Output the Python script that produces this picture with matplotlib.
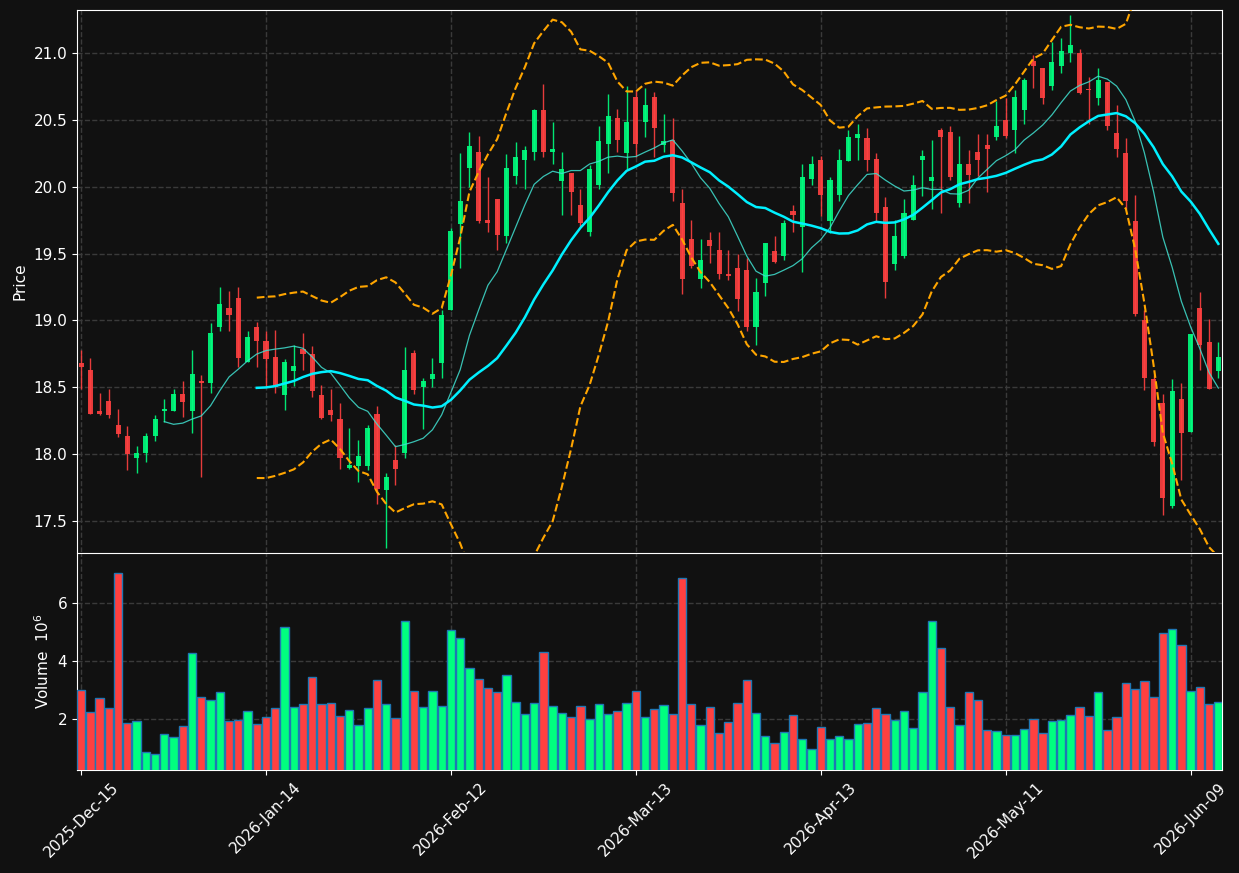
import numpy as np
import pandas as pd
import matplotlib
matplotlib.use("Agg")
from matplotlib import pyplot as plt

# daily OHLC (index = trading day)
opens = [18.68, 18.63, 18.32, 18.40, 18.22, 18.14, 17.97, 18.01, 18.14, 18.32,
         18.32, 18.45, 18.32, 18.55, 18.53, 18.95, 19.09, 19.17, 18.69, 18.95,
         18.85, 18.73, 18.44, 18.62, 18.79, 18.75, 18.44, 18.33, 18.26, 17.90,
         17.91, 17.91, 18.30, 17.73, 17.96, 18.01, 18.76, 18.50, 18.56, 18.68,
         19.08, 19.72, 20.14, 20.26, 19.75, 19.91, 19.63, 20.08, 20.20, 20.26,
         20.57, 20.26, 20.04, 20.10, 19.86, 19.66, 20.01, 20.32, 20.51, 20.25,
         20.67, 20.48, 20.67, 20.31, 20.35, 19.88, 19.61, 19.31, 19.60, 19.53,
         19.35, 19.39, 19.38, 18.95, 19.28, 19.52, 19.48, 19.82, 19.70, 20.06,
         20.20, 19.74, 19.94, 20.19, 20.36, 20.36, 20.21, 19.85, 19.42, 19.48,
         19.75, 20.20, 20.04, 20.42, 20.41, 19.88, 20.17, 20.26, 20.31, 20.37,
         20.50, 20.42, 20.57, 20.94, 20.89, 20.75, 20.90, 21.00, 21.00, 20.73,
         20.66, 20.78, 20.40, 20.25, 19.74, 19.00, 18.56, 18.38, 17.61, 18.41,
         18.17, 19.09, 18.84, 18.62]
highs = [18.78, 18.72, 18.46, 18.49, 18.34, 18.21, 18.06, 18.16, 18.29, 18.41,
         18.49, 18.55, 18.78, 18.59, 18.98, 19.25, 19.22, 19.25, 18.92, 18.99,
         18.92, 18.93, 18.71, 18.82, 18.91, 18.81, 18.52, 18.49, 18.38, 18.20,
         18.11, 18.22, 18.36, 17.86, 18.07, 18.80, 18.78, 18.57, 18.72, 19.08,
         19.69, 20.25, 20.41, 20.38, 20.07, 19.91, 20.24, 20.33, 20.30, 20.58,
         20.77, 20.48, 20.26, 20.10, 19.98, 20.16, 20.45, 20.69, 20.58, 20.75,
         20.72, 20.74, 20.71, 20.54, 20.51, 19.98, 19.75, 19.61, 19.66, 19.66,
         19.53, 19.50, 19.47, 19.32, 19.58, 19.63, 19.75, 19.86, 20.17, 20.23,
         20.23, 20.07, 20.28, 20.42, 20.47, 20.44, 20.25, 19.92, 19.75, 19.91,
         20.09, 20.27, 20.35, 20.44, 20.45, 20.38, 20.27, 20.39, 20.39, 20.64,
         20.66, 20.72, 20.81, 20.98, 20.89, 21.08, 21.11, 21.28, 21.03, 20.82,
         20.89, 20.78, 20.61, 20.36, 19.94, 19.08, 18.59, 18.45, 18.56, 18.53,
         18.90, 19.21, 19.01, 18.84]
lows = [18.49, 18.30, 18.29, 18.27, 18.13, 17.88, 17.86, 17.94, 18.10, 18.24,
        18.32, 18.28, 18.16, 17.83, 18.46, 18.92, 18.92, 18.65, 18.69, 18.65,
        18.50, 18.46, 18.33, 18.51, 18.63, 18.43, 18.26, 18.25, 17.89, 17.89,
        17.79, 17.88, 17.63, 17.30, 17.77, 17.97, 18.45, 18.19, 18.50, 18.57,
        19.08, 19.39, 20.00, 19.73, 19.66, 19.53, 19.58, 20.02, 19.98, 20.20,
        20.22, 20.17, 19.79, 19.79, 19.70, 19.63, 19.98, 20.10, 20.26, 20.13,
        20.22, 20.37, 20.22, 20.26, 19.89, 19.20, 19.39, 19.24, 19.43, 19.31,
        19.30, 19.07, 18.92, 18.82, 19.18, 19.43, 19.45, 19.66, 19.36, 20.01,
        19.78, 19.65, 19.89, 20.19, 20.20, 20.12, 19.74, 19.17, 19.38, 19.47,
        19.75, 19.93, 19.83, 19.80, 20.05, 19.85, 19.88, 20.08, 19.96, 20.35,
        20.36, 20.25, 20.47, 20.74, 20.62, 20.72, 20.85, 20.93, 20.69, 20.47,
        20.61, 20.42, 20.22, 19.83, 19.03, 18.48, 18.06, 17.55, 17.60, 17.81,
        18.17, 18.63, 18.49, 18.57]
closes = [18.65, 18.30, 18.30, 18.29, 18.15, 18.00, 18.01, 18.14, 18.26, 18.34,
          18.45, 18.39, 18.60, 18.53, 18.91, 19.12, 19.04, 18.72, 18.88, 18.85,
          18.71, 18.50, 18.69, 18.66, 18.75, 18.47, 18.27, 18.29, 17.97, 17.92,
          17.99, 18.20, 17.74, 17.83, 17.89, 18.63, 18.48, 18.55, 18.60, 19.04,
          19.67, 19.89, 20.30, 19.74, 19.73, 19.64, 20.14, 20.22, 20.27, 20.57,
          20.26, 20.28, 20.13, 19.96, 19.73, 20.13, 20.34, 20.53, 20.35, 20.48,
          20.32, 20.61, 20.44, 20.34, 19.95, 19.31, 19.41, 19.45, 19.56, 19.35,
          19.33, 19.16, 18.95, 19.21, 19.58, 19.44, 19.73, 19.79, 20.07, 20.17,
          19.94, 20.05, 20.20, 20.37, 20.39, 20.20, 19.80, 19.29, 19.63, 19.80,
          20.01, 20.23, 20.07, 20.37, 20.07, 20.17, 20.09, 20.20, 20.28, 20.45,
          20.38, 20.67, 20.80, 20.90, 20.66, 20.93, 21.01, 21.06, 20.70, 20.72,
          20.80, 20.45, 20.28, 19.89, 19.05, 18.57, 18.09, 17.67, 18.47, 18.16,
          18.90, 18.82, 18.49, 18.73]
# volume in millions
volumes = [2.99, 2.23, 2.71, 2.37, 7.01, 1.85, 1.91, 0.85, 0.78, 1.47,
           1.37, 1.75, 4.26, 2.75, 2.64, 2.92, 1.92, 1.97, 2.26, 1.82,
           2.06, 2.37, 5.16, 2.40, 2.51, 3.44, 2.51, 2.54, 2.09, 2.30,
           1.78, 2.37, 3.33, 2.51, 2.02, 5.37, 2.95, 2.40, 2.95, 2.44,
           5.06, 4.78, 3.75, 3.37, 3.06, 2.92, 3.51, 2.57, 2.16, 2.54,
           4.30, 2.44, 2.20, 2.06, 2.44, 1.99, 2.51, 2.16, 2.26, 2.54,
           2.95, 2.06, 2.33, 2.47, 2.16, 6.85, 2.51, 1.78, 2.40, 1.50,
           1.88, 2.54, 3.33, 2.20, 1.40, 1.16, 1.54, 2.12, 1.30, 0.95,
           1.71, 1.30, 1.40, 1.30, 1.81, 1.85, 2.37, 2.16, 1.95, 2.26,
           1.68, 2.92, 5.37, 4.44, 2.40, 1.78, 2.92, 2.64, 1.61, 1.57,
           1.44, 1.44, 1.64, 1.99, 1.50, 1.92, 1.95, 2.12, 2.40, 2.09,
           2.92, 1.61, 2.06, 3.23, 3.02, 3.30, 2.75, 4.95, 5.09, 4.54,
           2.95, 3.09, 2.51, 2.57]
tick_labels = ['2025-Dec-15', '2026-Jan-14', '2026-Feb-12', '2026-Mar-13',
               '2026-Apr-13', '2026-May-11', '2026-Jun-09']

bg = '#111111'
up_c = '#00ff7f'
down_c = '#ff4040'

o = np.array(opens)
c = np.array(closes)
x = np.arange(len(c))
is_up = c >= o
cols = np.where(is_up, up_c, down_c)

close_s = pd.Series(closes)
ma10 = close_s.rolling(10).mean()
ma20 = close_s.rolling(20).mean()
sd20 = close_s.rolling(20).std()

fig = plt.figure(figsize=(12.39, 8.73), dpi=100, facecolor=bg)
ax = fig.add_axes([0.0621, 0.3677, 0.9242, 0.6209], facecolor=bg)
axv = fig.add_axes([0.0621, 0.1180, 0.9242, 0.2486], facecolor=bg, sharex=ax)

# candles
ax.vlines(x, lows, highs, colors=cols, linewidth=1, alpha=0.9, zorder=3)
ax.bar(x, c - o, bottom=o, width=0.55, color=cols, alpha=0.9, zorder=4)

# moving averages and bands
ax.plot(x, ma10, color='#40e0d0', linewidth=0.9, alpha=0.85, zorder=5)
ax.plot(x, ma20, color='#00f0ff', linewidth=1.8, zorder=5)
ax.plot(x, ma20 + 2 * sd20, color='orange', linestyle='--', linewidth=1.5, zorder=5)
ax.plot(x, ma20 - 2 * sd20, color='orange', linestyle='--', linewidth=1.5, zorder=5)

# volume
axv.bar(x, volumes, width=0.9, color=cols, edgecolor='#1f77b4', linewidth=1, zorder=3)

ax.set_xlim(-0.45, len(c) - 0.6)
ax.set_ylim(17.27, 21.32)
axv.set_ylim(0.3 * min(volumes), 1.1 * max(volumes))
ax.set_yticks([17.5, 18.0, 18.5, 19.0, 19.5, 20.0, 20.5, 21.0])
axv.set_yticks([2, 4, 6])

ticks = list(range(0, len(c), 20))
axv.set_xticks(ticks)
axv.set_xticklabels(tick_labels, rotation=45, ha='center')
plt.setp(ax.get_xticklabels(), visible=False)
ax.tick_params(axis='x', length=0)

for a in (ax, axv):
    a.grid(True, color='#3a3a3a', linestyle='--', linewidth=1)
    a.set_axisbelow(True)
    a.tick_params(colors='white', labelsize=11)
    for s in a.spines.values():
        s.set_color('white')
ax.spines['bottom'].set_visible(False)

ax.set_ylabel('Price', color='white', fontsize=11)
axv.set_ylabel('Volume  $10^6$', color='white', fontsize=11)

fig.savefig('out.png', dpi=100, facecolor=bg)
